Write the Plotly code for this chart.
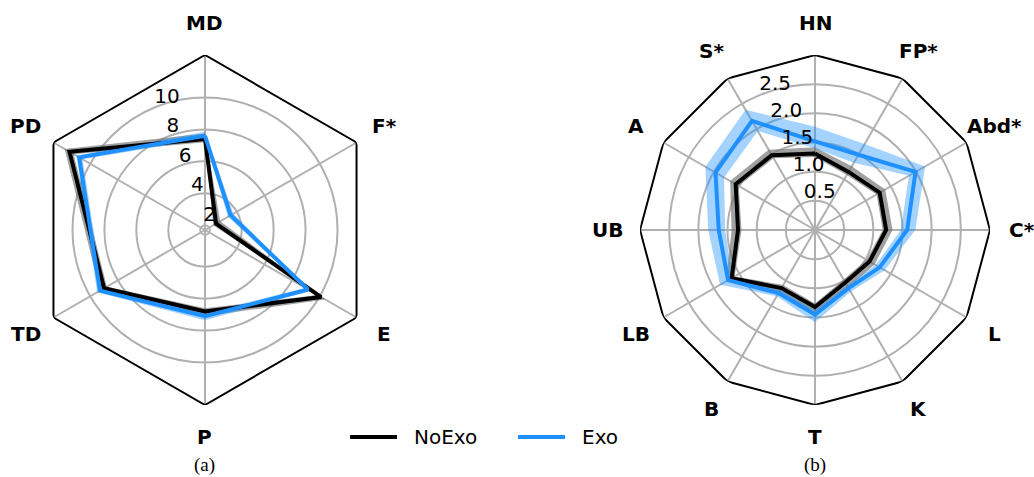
import math
import plotly.graph_objects as go

W, H = 1034, 477

# ---- panel (a): six-axis radar ----
labels_a = ["MD", "F*", "E", "P", "TD", "PD"]
noexo_a = [7.4, 2.5, 10.1, 6.8, 9.0, 11.5]
noexo_a_lo = [7.2, 2.3, 9.85, 6.6, 8.8, 11.2]
noexo_a_hi = [7.75, 2.8, 10.4, 7.1, 9.3, 11.85]
exo_a = [7.6, 3.55, 9.15, 7.1, 9.3, 10.8]
exo_a_lo = [7.4, 3.35, 8.95, 6.9, 9.1, 10.55]
exo_a_hi = [7.85, 3.75, 9.35, 7.35, 9.5, 11.0]
rticks_a = [2, 4, 6, 8, 10]
rtext_a = ["2", "4", "6", "8", "10"]
rrange_a = [1.7, 12.66]

# ---- panel (b): twelve-axis radar ----
labels_b = ["HN", "FP*", "Abd*", "C*", "L", "K", "T", "B", "LB", "UB", "A", "S*"]
noexo_b = [1.31, 1.15, 1.28, 1.22, 1.08, 1.04, 1.32, 1.15, 1.65, 1.32, 1.57, 1.48]
noexo_b_lo = [1.25, 1.09, 1.22, 1.16, 1.02, 0.98, 1.26, 1.09, 1.59, 1.26, 1.51, 1.42]
noexo_b_hi = [1.42, 1.26, 1.39, 1.33, 1.18, 1.14, 1.42, 1.25, 1.76, 1.43, 1.68, 1.59]
exo_b = [1.52, 1.49, 1.99, 1.58, 1.28, 1.15, 1.45, 1.25, 1.72, 1.65, 1.97, 2.16]
exo_b_lo = [1.40, 1.33, 1.86, 1.47, 1.20, 1.10, 1.37, 1.19, 1.63, 1.54, 1.80, 1.96]
exo_b_hi = [1.77, 1.70, 2.18, 1.72, 1.38, 1.22, 1.58, 1.31, 1.88, 1.83, 2.17, 2.38]
rticks_b = [0.5, 1.0, 1.5, 2.0, 2.5]
rtext_b = ["0.5", "1.0", "1.5", "2.0", "2.5"]
rrange_b = [0.0, 3.0]

series_names = ["NoExo", "Exo"]
line_colors = ["black", "#1E90FF"]
band_colors = ["rgba(110,110,110,0.65)", "rgba(30,144,255,0.4)"]
captions = ["(a)", "(b)"]

GRID = "#b0b0b0"
FONT = "DejaVu Sans"

dom_a = dict(x=[30 / W, 380 / W], y=[1 - 405 / H, 1 - 55 / H])
dom_b = dict(x=[640 / W, 990 / W], y=[1 - 405 / H, 1 - 55 / H])


def closed(v):
    v = list(v)
    return v + [v[0]]


def add_radar(fig, sub, labels, means, los, his, rtext, rticks, rrange):
    n = len(labels)
    theta = [i * 360.0 / n for i in range(n)]
    th_c = closed(theta)
    # polygon frame at the outer radius
    fig.add_trace(go.Scatterpolar(
        r=[rrange[1]] * (n + 1), theta=th_c, mode="lines",
        line=dict(color="black", width=2), subplot=sub,
        showlegend=False, hoverinfo="skip"))
    # spread bands (ring between lower and upper bounds)
    for lo, hi, col in zip(los, his, band_colors):
        r = closed(hi) + closed(lo)[::-1]
        t = th_c + th_c[::-1]
        fig.add_trace(go.Scatterpolar(
            r=r, theta=t, mode="lines", fill="toself", fillcolor=col,
            line=dict(width=0, color=col), subplot=sub,
            showlegend=False, hoverinfo="skip"))
    # mean lines
    for vals, col, name in zip(means, line_colors, series_names):
        fig.add_trace(go.Scatterpolar(
            r=closed(vals), theta=th_c, mode="lines", name=name,
            line=dict(color=col, width=4), subplot=sub, showlegend=False))
    # radial tick labels along a ray left of the top axis
    fig.add_trace(go.Scatterpolar(
        r=rticks, theta=[337.5] * len(rticks), mode="text", text=rtext,
        textposition="top right",
        textfont=dict(size=20, color="black", family=FONT),
        subplot=sub, showlegend=False, hoverinfo="skip"))
    return theta


fig = go.Figure()
theta_a = add_radar(fig, "polar", labels_a, [noexo_a, exo_a], [noexo_a_lo, exo_a_lo],
                    [noexo_a_hi, exo_a_hi], rtext_a, rticks_a, rrange_a)
theta_b = add_radar(fig, "polar2", labels_b, [noexo_b, exo_b], [noexo_b_lo, exo_b_lo],
                    [noexo_b_hi, exo_b_hi], rtext_b, rticks_b, rrange_b)


def polar_layout(dom, theta, rticks, rrange):
    return dict(
        domain=dom,
        bgcolor="white",
        gridshape="circular",
        radialaxis=dict(range=rrange, tickvals=rticks, showticklabels=False,
                        showline=False, ticks="", gridcolor=GRID, gridwidth=2),
        angularaxis=dict(type="linear", thetaunit="degrees", rotation=90,
                         direction="clockwise", tickmode="array", tickvals=theta,
                         showticklabels=False, ticks="", showline=False,
                         gridcolor=GRID, gridwidth=2),
    )


annotations = []


def category_labels(dom, labels, theta):
    cx = (dom["x"][0] + dom["x"][1]) / 2
    cy = (dom["y"][0] + dom["y"][1]) / 2
    rad_px = min((dom["x"][1] - dom["x"][0]) * W, (dom["y"][1] - dom["y"][0]) * H) / 2
    rl = rad_px * 1.183
    for lab, th in zip(labels, theta):
        a = math.radians(90 - th)
        annotations.append(dict(
            x=cx + rl * math.cos(a) / W, y=cy + rl * math.sin(a) / H,
            xref="paper", yref="paper", text=lab, showarrow=False,
            xanchor="center", yanchor="middle",
            font=dict(size=20, family=FONT, color="black", weight="bold")))


category_labels(dom_a, labels_a, theta_a)
category_labels(dom_b, labels_b, theta_b)

for dom, cap in zip([dom_a, dom_b], captions):
    annotations.append(dict(
        x=(dom["x"][0] + dom["x"][1]) / 2, y=1 - 465 / H, xref="paper", yref="paper",
        text=cap, showarrow=False, xanchor="center", yanchor="middle",
        font=dict(size=19, family="Liberation Serif", color="black")))

# legend drawn as short line samples with labels
shapes = []
legend_x = [350, 518]
for x0, name, col in zip(legend_x, series_names, line_colors):
    yl = 1 - 437 / H
    shapes.append(dict(type="line", xref="paper", yref="paper",
                       x0=x0 / W, x1=(x0 + 47) / W, y0=yl, y1=yl,
                       line=dict(color=col, width=4)))
    annotations.append(dict(
        x=(x0 + 62) / W, y=yl, xref="paper", yref="paper", text=name,
        showarrow=False, xanchor="left", yanchor="middle",
        font=dict(size=20, family=FONT, color="black")))

fig.update_layout(
    width=W, height=H, autosize=False,
    margin=dict(l=0, r=0, t=0, b=0),
    paper_bgcolor="white", plot_bgcolor="white",
    showlegend=False,
    polar=polar_layout(dom_a, theta_a, rticks_a, rrange_a),
    polar2=polar_layout(dom_b, theta_b, rticks_b, rrange_b),
    annotations=annotations, shapes=shapes,
)

fig.write_html("out.html")
